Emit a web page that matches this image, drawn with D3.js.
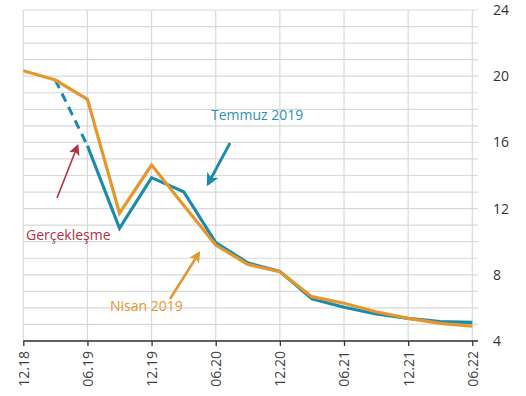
<!DOCTYPE html>
<html>
<head>
<meta charset="utf-8">
<script src="https://cdn.jsdelivr.net/npm/d3@7"></script>
<style>
  html, body { margin: 0; padding: 0; background: #fff; }
  svg { display: block; font-family: "Open Sans", "Noto Sans", sans-serif; }
</style>
</head>
<body>
<svg id="chart" width="526" height="396"></svg>
<script>
// Quarterly periods on the x axis
const periods = ["12.18","03.19","06.19","09.19","12.19","03.20","06.20","09.20",
                 "12.20","03.21","06.21","09.21","12.21","03.22","06.22"];
// Labelled x ticks (every half year)
const xTickLabels = ["12.18","06.19","12.19","06.20","12.20","06.21","12.21","06.22"];
// Right axis tick values
const yTickValues = [4, 8, 12, 16, 20, 24];

// Nisan 2019 path
const nisan2019 = [20.33, 19.77, 18.6, 11.72, 14.63, 12.2, 9.8, 8.63,
                   8.19, 6.68, 6.28, 5.77, 5.37, 5.07, 4.9];
// Temmuz 2019 path (starts from the realised June 2019 value)
const temmuz2019 = [null, null, 15.8, 10.81, 13.87, 13.02, 9.95, 8.72,
                    8.2, 6.55, 6.04, 5.63, 5.37, 5.17, 5.13];
// Realised values between March and June 2019 (dashed)
const gerceklesme = [null, 19.77, 15.8, null, null, null, null, null,
                     null, null, null, null, null, null, null];

const svg = d3.select("#chart");
const plotLeft = 23.3, plotRight = 472.3, gridRight = 478, plotTop = 10, plotBottom = 341;

const x = d3.scalePoint().domain(periods).range([plotLeft, plotRight]);
const y = d3.scaleLinear().domain([4, 24]).range([plotBottom, plotTop]);

const colTeal = "#1a8bab", colOrange = "#e5972f", colRed = "#b3303f";

// Horizontal gridlines, one per unit
svg.append("g").selectAll("line")
  .data(d3.range(4, 25, 1))
  .join("line")
  .attr("x1", plotLeft).attr("x2", gridRight)
  .attr("y1", d => y(d)).attr("y2", d => y(d))
  .attr("stroke", "#d9d9d9").attr("stroke-width", 1.2);

// Vertical gridlines at labelled periods
svg.append("g").selectAll("line")
  .data(xTickLabels)
  .join("line")
  .attr("x1", d => x(d)).attr("x2", d => x(d))
  .attr("y1", plotTop).attr("y2", plotBottom)
  .attr("stroke", "#d9d9d9").attr("stroke-width", 1.2);

// Bottom axis
const xAxis = d3.axisBottom(x).tickValues(xTickLabels).tickSize(5).tickSizeOuter(0);
const gx = svg.append("g").attr("transform", `translate(0,${plotBottom})`).call(xAxis);
gx.select(".domain").remove();
gx.append("line").attr("x1", plotLeft).attr("x2", gridRight)
  .attr("stroke", "#333").attr("stroke-width", 1.5);
gx.selectAll(".tick line").attr("stroke", "#333").attr("stroke-width", 1.3);
gx.selectAll(".tick text")
  .attr("transform", "rotate(-90)")
  .attr("x", -10).attr("y", 0).attr("dy", "0.35em")
  .attr("text-anchor", "end")
  .attr("fill", "#404040")
  .style("font-size", "14px")
  .style("font-family", "'Open Sans', sans-serif");

// Right axis labels
const yAxis = d3.axisRight(y).tickValues(yTickValues).tickSize(0);
const gy = svg.append("g").attr("transform", `translate(${gridRight + 15},0)`).call(yAxis);
gy.select(".domain").remove();
gy.selectAll(".tick text")
  .attr("x", 0)
  .attr("fill", "#333")
  .style("font-size", "14px")
  .style("font-family", "'Open Sans', sans-serif");

const line = d3.line()
  .defined(d => d != null)
  .x((d, i) => x(periods[i]))
  .y(d => y(d));

// Realised (dashed) segment
svg.append("path")
  .attr("d", line(gerceklesme))
  .attr("fill", "none").attr("stroke", colTeal)
  .attr("stroke-width", 3).attr("stroke-dasharray", "9,6");

// Temmuz 2019
svg.append("path")
  .attr("d", line(temmuz2019))
  .attr("fill", "none").attr("stroke", colTeal)
  .attr("stroke-width", 3.2).attr("stroke-linejoin", "miter");

// Nisan 2019
svg.append("path")
  .attr("d", line(nisan2019))
  .attr("fill", "none").attr("stroke", colOrange)
  .attr("stroke-width", 3.2).attr("stroke-linejoin", "miter");

// Arrow markers
const defs = svg.append("defs");
function marker(id, color, size) {
  defs.append("marker")
    .attr("id", id).attr("viewBox", "0 0 10 10")
    .attr("refX", 8).attr("refY", 5)
    .attr("markerWidth", size).attr("markerHeight", size)
    .attr("markerUnits", "strokeWidth")
    .attr("orient", "auto")
    .append("path").attr("d", "M0,0 L10,5 L0,10 L2.5,5 Z").attr("fill", color);
}
marker("arrTeal", colTeal, 4.6);
marker("arrOrange", colOrange, 4.4);
marker("arrRed", colRed, 7);

// Annotations
svg.append("line").attr("x1", 230).attr("y1", 143).attr("x2", 208).attr("y2", 184)
  .attr("stroke", colTeal).attr("stroke-width", 2.8).attr("marker-end", "url(#arrTeal)");
svg.append("text").attr("x", 211).attr("y", 115).attr("dy", "0.35em")
  .attr("fill", "#2b93b3").style("font-size", "14px").text("Temmuz 2019");

svg.append("line").attr("x1", 57).attr("y1", 198).attr("x2", 77.5).attr("y2", 146)
  .attr("stroke", colRed).attr("stroke-width", 1.6).attr("marker-end", "url(#arrRed)");
svg.append("text").attr("x", 26).attr("y", 235).attr("dy", "0.35em")
  .attr("fill", colRed).style("font-size", "14px").text("Gerçekleşme");

svg.append("line").attr("x1", 170).attr("y1", 299).attr("x2", 199).attr("y2", 253)
  .attr("stroke", colOrange).attr("stroke-width", 2.6).attr("marker-end", "url(#arrOrange)");
svg.append("text").attr("x", 110).attr("y", 306).attr("dy", "0.35em")
  .attr("fill", colOrange).style("font-size", "14px").text("Nisan 2019");
</script>
</body>
</html>
